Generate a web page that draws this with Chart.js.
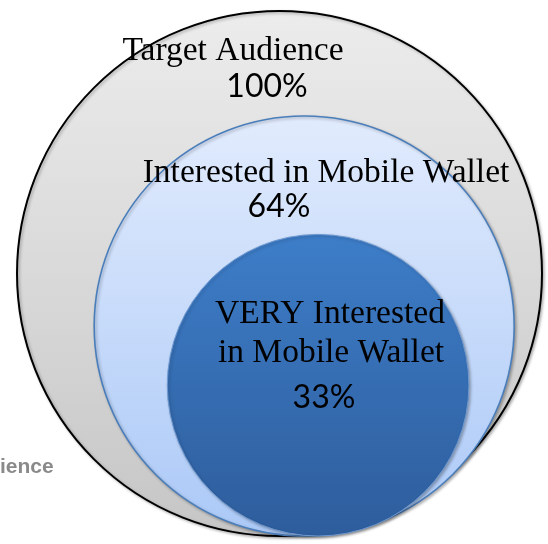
<!DOCTYPE html>
<html>
<head>
<meta charset="utf-8">
<style>
  html, body { margin: 0; padding: 0; background: #ffffff; }
  #wrap { width: 548px; height: 544px; position: relative; }
</style>
<script src="https://cdn.jsdelivr.net/npm/chart.js@4.4.1/dist/chart.umd.min.js"></script>
</head>
<body>
<div id="wrap"><canvas id="c" width="548" height="544"></canvas></div>
<script>
// Audience funnel: each circle's area is proportional to its share
const groups = ['Target Audience', 'Interested in Mobile Wallet', 'VERY Interested in Mobile Wallet'];
const shares = [100, 64, 33];
const shareLabels = ['100%', '64%', '33%'];
const groupLines = [['Target Audience'], ['Interested in Mobile Wallet'], ['VERY Interested', 'in Mobile Wallet']];
const sideCaption = 'ience';

// Styling / layout (kept apart from the data)
const centreShift = [0, 0.094, 0.147];          // horizontal shift of each circle, in outer-radius units
const fills = [['#ececec', '#c6c6c6'], ['#e1ebfd', '#abc9f7'], ['#3d7dc8', '#2e5d9c']];
const strokes = ['#000000', '#4a7ebb', '#6d98d0'];
const strokeWidths = [2, 1.6, 1];
const textPos = {
  group: [[[233, 60]], [[326, 182]], [[330, 323], [331, 362]]],
  share: [[267, 97], [279, 217], [324, 408]]
};

const radiusUnits = i => Math.sqrt(shares[i] / 100);
const pxPerUnit = chart => Math.abs(chart.scales.y.getPixelForValue(1) - chart.scales.y.getPixelForValue(0));

const points = shares.map((s, i) => ({ x: centreShift[i], y: radiusUnits(i) }));

const circleShadow = {
  id: 'circleShadow',
  beforeDatasetsDraw(chart) {
    const c = chart.ctx;
    c.save();
    c.shadowColor = 'rgba(0,0,0,0.28)';
    c.shadowBlur = 3;
    c.shadowOffsetX = 1.5;
    c.shadowOffsetY = 1.5;
  },
  afterDatasetsDraw(chart) {
    chart.ctx.restore();
  }
};

const circleText = {
  id: 'circleText',
  afterDraw(chart) {
    const c = chart.ctx;
    c.save();
    c.fillStyle = '#000000';
    c.textAlign = 'center';
    c.textBaseline = 'alphabetic';
    c.font = '33.5px "Liberation Serif", serif';
    groupLines.forEach((lines, i) => {
      lines.forEach((line, j) => {
        const [x, y] = textPos.group[i][j];
        c.fillText(line, x, y);
      });
    });
    c.font = '32px Lato, "Open Sans", sans-serif';
    shareLabels.forEach((t, i) => {
      const [x, y] = textPos.share[i];
      c.fillText(t, x, y);
    });
    c.textAlign = 'left';
    c.fillStyle = '#8a8a8a';
    c.font = 'bold 21px "Liberation Sans", sans-serif';
    c.fillText(sideCaption, 0, 473);
    c.restore();
  }
};

const OUTER_PX = 262.5;
new Chart(document.getElementById('c'), {
  type: 'scatter',
  data: {
    datasets: [{
      label: 'Share of audience',
      data: points,
      clip: false,
      pointStyle: 'circle',
      radius: ctx => radiusUnits(ctx.dataIndex) * pxPerUnit(ctx.chart),
      backgroundColor: ctx => {
        const i = ctx.dataIndex;
        const chart = ctx.chart;
        if (!chart.chartArea) return fills[i][0];
        const y = chart.scales.y;
        const top = y.getPixelForValue(2 * radiusUnits(i));
        const bot = y.getPixelForValue(0);
        const g = chart.ctx.createLinearGradient(0, top, 0, bot);
        g.addColorStop(0, fills[i][0]);
        g.addColorStop(1, fills[i][1]);
        return g;
      },
      borderColor: strokes,
      borderWidth: strokeWidths
    }]
  },
  options: {
    responsive: false,
    animation: false,
    events: [],
    layout: { padding: 0 },
    plugins: { legend: { display: false }, tooltip: { enabled: false } },
    scales: {
      x: { type: 'linear', display: false, min: -279.5 / OUTER_PX, max: 268.5 / OUTER_PX },
      y: { type: 'linear', display: false, min: -8 / OUTER_PX, max: 536 / OUTER_PX }
    }
  },
  plugins: [circleShadow, circleText]
});
</script>
</body>
</html>
